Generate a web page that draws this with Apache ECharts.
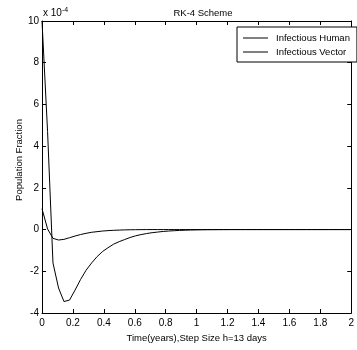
<!DOCTYPE html>
<html>
<head>
<meta charset="utf-8">
<script src="https://cdn.jsdelivr.net/npm/echarts@6/dist/echarts.min.js"></script>
<style>
html,body{margin:0;padding:0;background:#fff;}
#chart{width:357px;height:350px;}
</style>
</head>
<body>
<div id="chart"></div>
<script>
// Time in years, step size h = 13 days
var times = [0, 0.036, 0.071, 0.107, 0.142, 0.178, 0.214, 0.249, 0.285, 0.321,
  0.356, 0.392, 0.427, 0.463, 0.499, 0.534, 0.570, 0.605, 0.641, 0.677,
  0.712, 0.748, 0.784, 0.819, 0.855, 0.890, 0.926, 0.962, 0.997, 1.033,
  1.068, 1.104, 1.140, 1.175, 1.211, 1.247, 1.282, 1.318, 1.353, 1.389,
  1.425, 1.460, 1.496, 1.532, 1.567, 1.603, 1.638, 1.674, 1.710, 1.745,
  1.781, 1.816, 1.852, 1.888, 1.923, 1.959, 1.995];
// values in units of 1e-4
var infectiousHuman = [1.0, 0.03, -0.42, -0.5, -0.47, -0.39, -0.31, -0.24, -0.18, -0.13,
  -0.1, -0.07, -0.05, -0.035, -0.025, -0.015, -0.01, -0.006, -0.003, -0.001,
  0, 0, 0, 0, 0, 0, 0, 0, 0, 0,
  0, 0, 0, 0, 0, 0, 0, 0, 0, 0,
  0, 0, 0, 0, 0, 0, 0, 0, 0, 0,
  0, 0, 0, 0, 0, 0, 0];
var infectiousVector = [10, 4.7, -1.6, -2.8, -3.45, -3.38, -2.9, -2.4, -1.95, -1.6,
  -1.3, -1.05, -0.87, -0.7, -0.58, -0.48, -0.38, -0.3, -0.24, -0.19,
  -0.15, -0.12, -0.09, -0.07, -0.055, -0.04, -0.03, -0.02, -0.015, -0.01,
  -0.007, -0.005, -0.003, -0.002, -0.001, 0, 0, 0, 0, 0,
  0, 0, 0, 0, 0, 0, 0, 0, 0, 0,
  0, 0, 0, 0, 0, 0, 0];
var seriesNames = ['Infectious Human', 'Infectious Vector'];
var xTicks = [0, 0.2, 0.4, 0.6, 0.8, 1, 1.2, 1.4, 1.6, 1.8, 2];
var yTicks = [-4, -2, 0, 2, 4, 6, 8, 10];

function pairs(xs, ys) { return xs.map(function (x, i) { return [x, ys[i]]; }); }

var FONT = 'Liberation Sans, Arial, sans-serif';
var chart = echarts.init(document.getElementById('chart'), null, {renderer: 'canvas'});
var axisCommon = {
  axisLine: {onZero: false, lineStyle: {color: '#000', width: 1}},
  axisTick: {inside: true, length: 4, lineStyle: {color: '#000'}},
  splitLine: {show: false}
};
chart.setOption({
  animation: false,
  backgroundColor: '#fff',
  title: {
    text: 'RK-4 Scheme', left: 198, top: 3, textAlign: 'center',
    textStyle: {fontFamily: FONT, fontSize: 9.5, fontWeight: 'normal', color: '#000'}
  },
  grid: {left: 42, right: 2, top: 21, bottom: 37},
  legend: {
    data: seriesNames, orient: 'vertical', left: 237, top: 27,
    backgroundColor: '#fff', borderColor: '#000', borderWidth: 1,
    padding: [6, 7, 5, 6], itemGap: 4, itemWidth: 25, itemHeight: 1,
    icon: 'rect',
    textStyle: {fontFamily: FONT, fontSize: 9.5, color: '#000', padding: [0, 0, 0, 3]}
  },
  xAxis: [
    Object.assign({}, axisCommon, {
      type: 'value', min: 0, max: 2, interval: 0.2, position: 'bottom',
      name: 'Time(years),Step Size h=13 days', nameLocation: 'middle', nameGap: 18,
      nameTextStyle: {fontFamily: FONT, fontSize: 9.5, color: '#000'},
      axisLabel: {fontFamily: FONT, fontSize: 10, color: '#000', margin: 5,
        formatter: function (v) { var t = xTicks.filter(function (x) { return Math.abs(x - v) < 1e-6; }); return t.length ? String(t[0]) : ''; }}
    }),
    Object.assign({}, axisCommon, {
      type: 'value', min: 0, max: 2, interval: 0.2, position: 'top',
      axisLabel: {show: false}
    })
  ],
  yAxis: [
    Object.assign({}, axisCommon, {
      type: 'value', min: -4, max: 10, interval: 2, position: 'left',
      axisLabel: {fontFamily: FONT, fontSize: 10, color: '#000', margin: 3,
        formatter: function (v) { var t = yTicks.filter(function (y) { return Math.abs(y - v) < 1e-6; }); return t.length ? String(t[0]) : ''; }}
    }),
    Object.assign({}, axisCommon, {
      type: 'value', min: -4, max: 10, interval: 2, position: 'right',
      axisLabel: {show: false}
    })
  ],
  graphic: [
    {type: 'text', x: 19.5, y: 160, rotation: Math.PI / 2,
      style: {text: 'Population Fraction', fontFamily: FONT, fontSize: 9.5, fill: '#000', align: 'center', verticalAlign: 'middle'}},
    {type: 'text', x: 43, y: 7,
      style: {text: 'x 10{s|-4}', fontFamily: FONT, fontSize: 10, fill: '#000', align: 'left', verticalAlign: 'top',
        rich: {s: {fontFamily: FONT, fontSize: 7, fill: '#000', verticalAlign: 'top', padding: [0, 0, 6, 0]}}}}
  ],
  series: [
    {name: seriesNames[0], type: 'line', data: pairs(times, infectiousHuman), showSymbol: false, symbol: 'none',
      lineStyle: {color: '#000', width: 1}, itemStyle: {color: '#000'}},
    {name: seriesNames[1], type: 'line', data: pairs(times, infectiousVector), showSymbol: false, symbol: 'none',
      lineStyle: {color: '#000', width: 1}, itemStyle: {color: '#000'}}
  ]
});
</script>
</body>
</html>
